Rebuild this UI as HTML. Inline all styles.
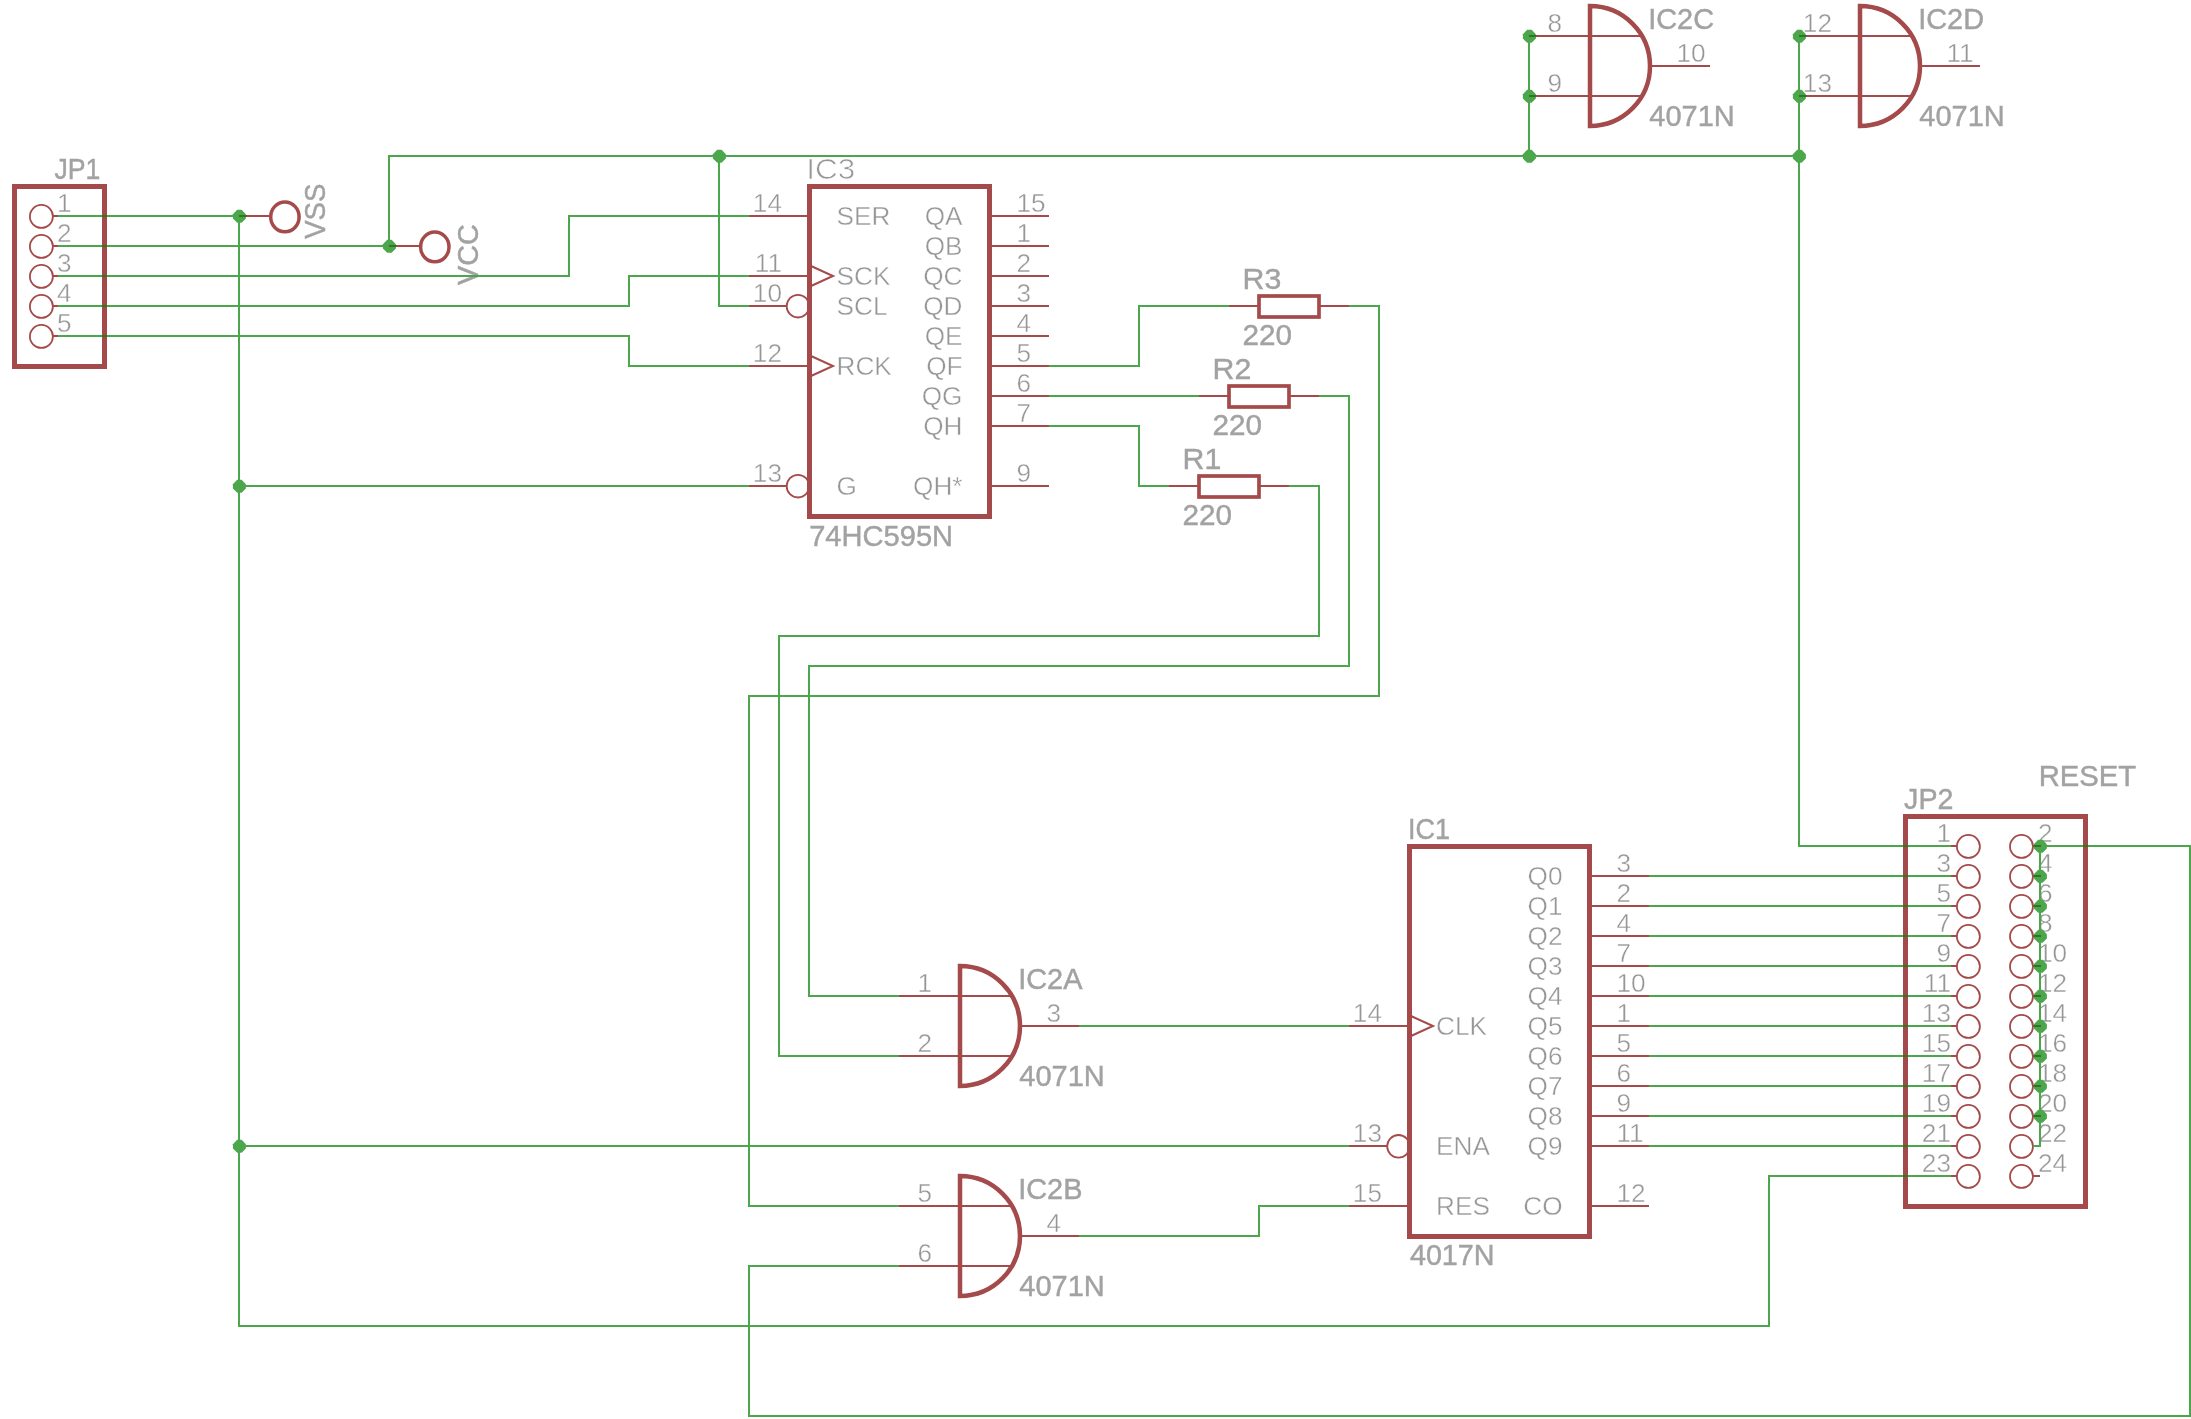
<!DOCTYPE html>
<html><head><meta charset="utf-8"><style>
html,body{margin:0;padding:0;background:#fff;width:2191px;height:1419px;overflow:hidden}
svg{display:block;will-change:transform}
.t{font-family:"Liberation Sans",sans-serif;fill:#969696;stroke:#fff;stroke-width:0.4px}
.th{font-family:"Liberation Sans",sans-serif;fill:#969696;stroke:#fff;stroke-width:0.7px}
.n{font-family:"Liberation Sans",sans-serif;fill:#a2a2a2;stroke:#a2a2a2;stroke-width:0.45px}
</style></head><body>
<svg width="2191" height="1419" viewBox="0 0 2191 1419">
<rect width="2191" height="1419" fill="#fff"/>
<rect x="14.5" y="186.5" width="90" height="180" stroke="#a54a4a" stroke-width="5" fill="none"/>
<circle cx="41.4" cy="216.4" r="11.5" stroke="#a54a4a" stroke-width="1.8" fill="none"/>
<path d="M53 216 L58 216" stroke="#a54a4a" stroke-width="2" fill="none"/>
<text x="57" y="212" class="t" font-size="26.2" text-anchor="start" >1</text>
<circle cx="41.4" cy="246.4" r="11.5" stroke="#a54a4a" stroke-width="1.8" fill="none"/>
<path d="M53 246 L58 246" stroke="#a54a4a" stroke-width="2" fill="none"/>
<text x="57" y="242" class="t" font-size="26.2" text-anchor="start" >2</text>
<circle cx="41.4" cy="276.4" r="11.5" stroke="#a54a4a" stroke-width="1.8" fill="none"/>
<path d="M53 276 L58 276" stroke="#a54a4a" stroke-width="2" fill="none"/>
<text x="57" y="272" class="t" font-size="26.2" text-anchor="start" >3</text>
<circle cx="41.4" cy="306.4" r="11.5" stroke="#a54a4a" stroke-width="1.8" fill="none"/>
<path d="M53 306 L58 306" stroke="#a54a4a" stroke-width="2" fill="none"/>
<text x="57" y="302" class="t" font-size="26.2" text-anchor="start" >4</text>
<circle cx="41.4" cy="336.4" r="11.5" stroke="#a54a4a" stroke-width="1.8" fill="none"/>
<path d="M53 336 L58 336" stroke="#a54a4a" stroke-width="2" fill="none"/>
<text x="57" y="332" class="t" font-size="26.2" text-anchor="start" >5</text>
<text x="54.47" y="178.8" class="n" font-size="30" text-anchor="start" transform="translate(54.47 178.8) scale(0.889 1) translate(-54.47 -178.8)">JP1</text>
<path d="M239 216 L269 216" stroke="#a54a4a" stroke-width="2" fill="none"/>
<ellipse cx="284.9" cy="216.9" rx="14.2" ry="14.9" stroke="#a54a4a" stroke-width="3.5" fill="none"/>
<text x="325" y="238.8" class="n" font-size="30" text-anchor="start" transform="translate(325 238.8) rotate(-90) scale(0.92 1) translate(-325 -238.8)">VSS</text>
<path d="M389 246 L419 246" stroke="#a54a4a" stroke-width="2" fill="none"/>
<ellipse cx="434.8" cy="246.9" rx="14.2" ry="14.9" stroke="#a54a4a" stroke-width="3.5" fill="none"/>
<text x="478" y="284.9" class="n" font-size="30" text-anchor="start" transform="translate(478 284.9) rotate(-90) scale(0.96 1) translate(-478 -284.9)">VCC</text>
<rect x="809.5" y="186.5" width="180" height="330" stroke="#a54a4a" stroke-width="5" fill="none"/>
<path d="M749 216 L807 216" stroke="#a54a4a" stroke-width="2" fill="none"/>
<text x="782" y="212" class="t" font-size="26.2" text-anchor="end" >14</text>
<text x="836.5" y="225" class="t" font-size="26.2" text-anchor="start" >SER</text>
<path d="M749 276 L807 276" stroke="#a54a4a" stroke-width="2" fill="none"/>
<path d="M811 266 L833 276 L811 286" stroke="#a54a4a" stroke-width="2" fill="none" stroke-linecap="butt" stroke-linejoin="miter"/>
<text x="782" y="272" class="t" font-size="26.2" text-anchor="end" >11</text>
<text x="836.5" y="285" class="t" font-size="26.2" text-anchor="start" >SCK</text>
<path d="M749 306 L787 306" stroke="#a54a4a" stroke-width="2" fill="none"/>
<circle cx="798" cy="306.2" r="11.3" stroke="#a54a4a" stroke-width="1.8" fill="none"/>
<text x="782" y="302" class="t" font-size="26.2" text-anchor="end" >10</text>
<text x="836.5" y="315" class="t" font-size="26.2" text-anchor="start" >SCL</text>
<path d="M749 366 L807 366" stroke="#a54a4a" stroke-width="2" fill="none"/>
<path d="M811 356 L833 366 L811 376" stroke="#a54a4a" stroke-width="2" fill="none" stroke-linecap="butt" stroke-linejoin="miter"/>
<text x="782" y="362" class="t" font-size="26.2" text-anchor="end" >12</text>
<text x="836.5" y="375" class="t" font-size="26.2" text-anchor="start" >RCK</text>
<path d="M749 486 L787 486" stroke="#a54a4a" stroke-width="2" fill="none"/>
<circle cx="798" cy="486.2" r="11.3" stroke="#a54a4a" stroke-width="1.8" fill="none"/>
<text x="782" y="482" class="t" font-size="26.2" text-anchor="end" >13</text>
<text x="836.5" y="495" class="t" font-size="26.2" text-anchor="start" >G</text>
<path d="M991 216 L1049 216" stroke="#a54a4a" stroke-width="2" fill="none"/>
<text x="1016.5" y="212" class="t" font-size="26.2" text-anchor="start" >15</text>
<text x="962.5" y="225" class="t" font-size="26.2" text-anchor="end" >QA</text>
<path d="M991 246 L1049 246" stroke="#a54a4a" stroke-width="2" fill="none"/>
<text x="1016.5" y="242" class="t" font-size="26.2" text-anchor="start" >1</text>
<text x="962.5" y="255" class="t" font-size="26.2" text-anchor="end" >QB</text>
<path d="M991 276 L1049 276" stroke="#a54a4a" stroke-width="2" fill="none"/>
<text x="1016.5" y="272" class="t" font-size="26.2" text-anchor="start" >2</text>
<text x="962.5" y="285" class="t" font-size="26.2" text-anchor="end" >QC</text>
<path d="M991 306 L1049 306" stroke="#a54a4a" stroke-width="2" fill="none"/>
<text x="1016.5" y="302" class="t" font-size="26.2" text-anchor="start" >3</text>
<text x="962.5" y="315" class="t" font-size="26.2" text-anchor="end" >QD</text>
<path d="M991 336 L1049 336" stroke="#a54a4a" stroke-width="2" fill="none"/>
<text x="1016.5" y="332" class="t" font-size="26.2" text-anchor="start" >4</text>
<text x="962.5" y="345" class="t" font-size="26.2" text-anchor="end" >QE</text>
<path d="M991 366 L1049 366" stroke="#a54a4a" stroke-width="2" fill="none"/>
<text x="1016.5" y="362" class="t" font-size="26.2" text-anchor="start" >5</text>
<text x="962.5" y="375" class="t" font-size="26.2" text-anchor="end" >QF</text>
<path d="M991 396 L1049 396" stroke="#a54a4a" stroke-width="2" fill="none"/>
<text x="1016.5" y="392" class="t" font-size="26.2" text-anchor="start" >6</text>
<text x="962.5" y="405" class="t" font-size="26.2" text-anchor="end" >QG</text>
<path d="M991 426 L1049 426" stroke="#a54a4a" stroke-width="2" fill="none"/>
<text x="1016.5" y="422" class="t" font-size="26.2" text-anchor="start" >7</text>
<text x="962.5" y="435" class="t" font-size="26.2" text-anchor="end" >QH</text>
<path d="M991 486 L1049 486" stroke="#a54a4a" stroke-width="2" fill="none"/>
<text x="1016.5" y="482" class="t" font-size="26.2" text-anchor="start" >9</text>
<text x="962.5" y="495" class="t" font-size="26.2" text-anchor="end" >QH*</text>
<text x="806.16" y="178.8" class="th" font-size="30" text-anchor="start" transform="translate(806.16 178.8) scale(1.05 1) translate(-806.16 -178.8)">IC3</text>
<text x="809.14" y="545.6" class="n" font-size="30" text-anchor="start" transform="translate(809.14 545.6) scale(0.97 1) translate(-809.14 -545.6)">74HC595N</text>
<rect x="1259" y="296" width="60" height="21" stroke="#a54a4a" stroke-width="3.7" fill="none"/>
<path d="M1229 306 L1258 306" stroke="#a54a4a" stroke-width="2" fill="none"/>
<path d="M1320 306 L1349 306" stroke="#a54a4a" stroke-width="2" fill="none"/>
<text x="1242.58" y="289.2" class="n" font-size="30" text-anchor="start" transform="translate(1242.58 289.2) scale(1.01 1) translate(-1242.58 -289.2)">R3</text>
<text x="1242.52" y="345" class="n" font-size="30" text-anchor="start" transform="translate(1242.52 345) scale(0.99 1) translate(-1242.52 -345)">220</text>
<rect x="1229" y="386" width="60" height="21" stroke="#a54a4a" stroke-width="3.7" fill="none"/>
<path d="M1199 396 L1228 396" stroke="#a54a4a" stroke-width="2" fill="none"/>
<path d="M1290 396 L1319 396" stroke="#a54a4a" stroke-width="2" fill="none"/>
<text x="1212.58" y="379.2" class="n" font-size="30" text-anchor="start" transform="translate(1212.58 379.2) scale(1.01 1) translate(-1212.58 -379.2)">R2</text>
<text x="1212.52" y="435" class="n" font-size="30" text-anchor="start" transform="translate(1212.52 435) scale(0.99 1) translate(-1212.52 -435)">220</text>
<rect x="1199" y="476" width="60" height="21" stroke="#a54a4a" stroke-width="3.7" fill="none"/>
<path d="M1169 486 L1198 486" stroke="#a54a4a" stroke-width="2" fill="none"/>
<path d="M1260 486 L1289 486" stroke="#a54a4a" stroke-width="2" fill="none"/>
<text x="1182.58" y="469.2" class="n" font-size="30" text-anchor="start" transform="translate(1182.58 469.2) scale(1.01 1) translate(-1182.58 -469.2)">R1</text>
<text x="1182.52" y="525" class="n" font-size="30" text-anchor="start" transform="translate(1182.52 525) scale(0.99 1) translate(-1182.52 -525)">220</text>
<path d="M1590 6 L1590 126 A60 60 0 0 0 1590 6 Z" stroke="#a54a4a" stroke-width="4.5" fill="none" stroke-linejoin="miter"/>
<path d="M1529 36 L1642 36" stroke="#a54a4a" stroke-width="2" fill="none"/>
<path d="M1529 96 L1642 96" stroke="#a54a4a" stroke-width="2" fill="none"/>
<path d="M1650 66 L1710 66" stroke="#a54a4a" stroke-width="2" fill="none"/>
<text x="1562" y="32" class="t" font-size="26.2" text-anchor="end" >8</text>
<text x="1562" y="92" class="t" font-size="26.2" text-anchor="end" >9</text>
<text x="1676.5" y="61.5" class="t" font-size="26.2" text-anchor="start" >10</text>
<text x="1648.2" y="28.9" class="n" font-size="30" text-anchor="start" transform="translate(1648.2 28.9) scale(0.963 1) translate(-1648.2 -28.9)">IC2C</text>
<text x="1649.32" y="126" class="n" font-size="30" text-anchor="start" transform="translate(1649.32 126) scale(0.966 1) translate(-1649.32 -126)">4071N</text>
<path d="M1860 6 L1860 126 A60 60 0 0 0 1860 6 Z" stroke="#a54a4a" stroke-width="4.5" fill="none" stroke-linejoin="miter"/>
<path d="M1799 36 L1912 36" stroke="#a54a4a" stroke-width="2" fill="none"/>
<path d="M1799 96 L1912 96" stroke="#a54a4a" stroke-width="2" fill="none"/>
<path d="M1920 66 L1980 66" stroke="#a54a4a" stroke-width="2" fill="none"/>
<text x="1832" y="32" class="t" font-size="26.2" text-anchor="end" >12</text>
<text x="1832" y="92" class="t" font-size="26.2" text-anchor="end" >13</text>
<text x="1946.5" y="61.5" class="t" font-size="26.2" text-anchor="start" >11</text>
<text x="1918.2" y="28.9" class="n" font-size="30" text-anchor="start" transform="translate(1918.2 28.9) scale(0.963 1) translate(-1918.2 -28.9)">IC2D</text>
<text x="1919.32" y="126" class="n" font-size="30" text-anchor="start" transform="translate(1919.32 126) scale(0.966 1) translate(-1919.32 -126)">4071N</text>
<path d="M960 966 L960 1086 A60 60 0 0 0 960 966 Z" stroke="#a54a4a" stroke-width="4.5" fill="none" stroke-linejoin="miter"/>
<path d="M899 996 L1012 996" stroke="#a54a4a" stroke-width="2" fill="none"/>
<path d="M899 1056 L1012 1056" stroke="#a54a4a" stroke-width="2" fill="none"/>
<path d="M1020 1026 L1080 1026" stroke="#a54a4a" stroke-width="2" fill="none"/>
<text x="932" y="992" class="t" font-size="26.2" text-anchor="end" >1</text>
<text x="932" y="1052" class="t" font-size="26.2" text-anchor="end" >2</text>
<text x="1046.5" y="1021.5" class="t" font-size="26.2" text-anchor="start" >3</text>
<text x="1018.2" y="988.9" class="n" font-size="30" text-anchor="start" transform="translate(1018.2 988.9) scale(0.963 1) translate(-1018.2 -988.9)">IC2A</text>
<text x="1019.32" y="1086" class="n" font-size="30" text-anchor="start" transform="translate(1019.32 1086) scale(0.966 1) translate(-1019.32 -1086)">4071N</text>
<path d="M960 1176 L960 1296 A60 60 0 0 0 960 1176 Z" stroke="#a54a4a" stroke-width="4.5" fill="none" stroke-linejoin="miter"/>
<path d="M899 1206 L1012 1206" stroke="#a54a4a" stroke-width="2" fill="none"/>
<path d="M899 1266 L1012 1266" stroke="#a54a4a" stroke-width="2" fill="none"/>
<path d="M1020 1236 L1080 1236" stroke="#a54a4a" stroke-width="2" fill="none"/>
<text x="932" y="1202" class="t" font-size="26.2" text-anchor="end" >5</text>
<text x="932" y="1262" class="t" font-size="26.2" text-anchor="end" >6</text>
<text x="1046.5" y="1231.5" class="t" font-size="26.2" text-anchor="start" >4</text>
<text x="1018.2" y="1198.9" class="n" font-size="30" text-anchor="start" transform="translate(1018.2 1198.9) scale(0.963 1) translate(-1018.2 -1198.9)">IC2B</text>
<text x="1019.32" y="1296" class="n" font-size="30" text-anchor="start" transform="translate(1019.32 1296) scale(0.966 1) translate(-1019.32 -1296)">4071N</text>
<rect x="1409.5" y="846.5" width="180" height="390" stroke="#a54a4a" stroke-width="5" fill="none"/>
<path d="M1349 1026 L1407 1026" stroke="#a54a4a" stroke-width="2" fill="none"/>
<path d="M1411 1016 L1433 1026 L1411 1036" stroke="#a54a4a" stroke-width="2" fill="none" stroke-linecap="butt" stroke-linejoin="miter"/>
<text x="1382" y="1022" class="t" font-size="26.2" text-anchor="end" >14</text>
<text x="1436" y="1035" class="t" font-size="26.2" text-anchor="start" >CLK</text>
<path d="M1349 1146 L1387 1146" stroke="#a54a4a" stroke-width="2" fill="none"/>
<circle cx="1398.5" cy="1146.3" r="11.3" stroke="#a54a4a" stroke-width="1.8" fill="none"/>
<text x="1382" y="1142" class="t" font-size="26.2" text-anchor="end" >13</text>
<text x="1436" y="1155" class="t" font-size="26.2" text-anchor="start" >ENA</text>
<path d="M1349 1206 L1407 1206" stroke="#a54a4a" stroke-width="2" fill="none"/>
<text x="1382" y="1202" class="t" font-size="26.2" text-anchor="end" >15</text>
<text x="1436" y="1215" class="t" font-size="26.2" text-anchor="start" >RES</text>
<path d="M1591 876 L1649 876" stroke="#a54a4a" stroke-width="2" fill="none"/>
<text x="1616.5" y="872" class="t" font-size="26.2" text-anchor="start" >3</text>
<text x="1562.5" y="885" class="t" font-size="26.2" text-anchor="end" >Q0</text>
<path d="M1591 906 L1649 906" stroke="#a54a4a" stroke-width="2" fill="none"/>
<text x="1616.5" y="902" class="t" font-size="26.2" text-anchor="start" >2</text>
<text x="1562.5" y="915" class="t" font-size="26.2" text-anchor="end" >Q1</text>
<path d="M1591 936 L1649 936" stroke="#a54a4a" stroke-width="2" fill="none"/>
<text x="1616.5" y="932" class="t" font-size="26.2" text-anchor="start" >4</text>
<text x="1562.5" y="945" class="t" font-size="26.2" text-anchor="end" >Q2</text>
<path d="M1591 966 L1649 966" stroke="#a54a4a" stroke-width="2" fill="none"/>
<text x="1616.5" y="962" class="t" font-size="26.2" text-anchor="start" >7</text>
<text x="1562.5" y="975" class="t" font-size="26.2" text-anchor="end" >Q3</text>
<path d="M1591 996 L1649 996" stroke="#a54a4a" stroke-width="2" fill="none"/>
<text x="1616.5" y="992" class="t" font-size="26.2" text-anchor="start" >10</text>
<text x="1562.5" y="1005" class="t" font-size="26.2" text-anchor="end" >Q4</text>
<path d="M1591 1026 L1649 1026" stroke="#a54a4a" stroke-width="2" fill="none"/>
<text x="1616.5" y="1022" class="t" font-size="26.2" text-anchor="start" >1</text>
<text x="1562.5" y="1035" class="t" font-size="26.2" text-anchor="end" >Q5</text>
<path d="M1591 1056 L1649 1056" stroke="#a54a4a" stroke-width="2" fill="none"/>
<text x="1616.5" y="1052" class="t" font-size="26.2" text-anchor="start" >5</text>
<text x="1562.5" y="1065" class="t" font-size="26.2" text-anchor="end" >Q6</text>
<path d="M1591 1086 L1649 1086" stroke="#a54a4a" stroke-width="2" fill="none"/>
<text x="1616.5" y="1082" class="t" font-size="26.2" text-anchor="start" >6</text>
<text x="1562.5" y="1095" class="t" font-size="26.2" text-anchor="end" >Q7</text>
<path d="M1591 1116 L1649 1116" stroke="#a54a4a" stroke-width="2" fill="none"/>
<text x="1616.5" y="1112" class="t" font-size="26.2" text-anchor="start" >9</text>
<text x="1562.5" y="1125" class="t" font-size="26.2" text-anchor="end" >Q8</text>
<path d="M1591 1146 L1649 1146" stroke="#a54a4a" stroke-width="2" fill="none"/>
<text x="1616.5" y="1142" class="t" font-size="26.2" text-anchor="start" >11</text>
<text x="1562.5" y="1155" class="t" font-size="26.2" text-anchor="end" >Q9</text>
<path d="M1591 1206 L1649 1206" stroke="#a54a4a" stroke-width="2" fill="none"/>
<text x="1616.5" y="1202" class="t" font-size="26.2" text-anchor="start" >12</text>
<text x="1562.5" y="1215" class="t" font-size="26.2" text-anchor="end" >CO</text>
<text x="1408.07" y="839" class="n" font-size="30" text-anchor="start" transform="translate(1408.07 839) scale(0.9 1) translate(-1408.07 -839)">IC1</text>
<text x="1409.93" y="1265.5" class="n" font-size="30" text-anchor="start" transform="translate(1409.93 1265.5) scale(0.958 1) translate(-1409.93 -1265.5)">4017N</text>
<rect x="1905.5" y="816.5" width="180" height="390" stroke="#a54a4a" stroke-width="5" fill="none"/>
<circle cx="1968.4" cy="846.4" r="11.5" stroke="#a54a4a" stroke-width="1.8" fill="none"/>
<circle cx="2021.5" cy="846.4" r="11.5" stroke="#a54a4a" stroke-width="1.8" fill="none"/>
<path d="M1951 846 L1957 846" stroke="#a54a4a" stroke-width="2" fill="none"/>
<path d="M2033 846 L2040 846" stroke="#a54a4a" stroke-width="2" fill="none"/>
<text x="1951" y="842" class="t" font-size="26.2" text-anchor="end" >1</text>
<text x="2038" y="842" class="t" font-size="26.2" text-anchor="start" >2</text>
<circle cx="1968.4" cy="876.4" r="11.5" stroke="#a54a4a" stroke-width="1.8" fill="none"/>
<circle cx="2021.5" cy="876.4" r="11.5" stroke="#a54a4a" stroke-width="1.8" fill="none"/>
<path d="M1951 876 L1957 876" stroke="#a54a4a" stroke-width="2" fill="none"/>
<path d="M2033 876 L2040 876" stroke="#a54a4a" stroke-width="2" fill="none"/>
<text x="1951" y="872" class="t" font-size="26.2" text-anchor="end" >3</text>
<text x="2038" y="872" class="t" font-size="26.2" text-anchor="start" >4</text>
<circle cx="1968.4" cy="906.4" r="11.5" stroke="#a54a4a" stroke-width="1.8" fill="none"/>
<circle cx="2021.5" cy="906.4" r="11.5" stroke="#a54a4a" stroke-width="1.8" fill="none"/>
<path d="M1951 906 L1957 906" stroke="#a54a4a" stroke-width="2" fill="none"/>
<path d="M2033 906 L2040 906" stroke="#a54a4a" stroke-width="2" fill="none"/>
<text x="1951" y="902" class="t" font-size="26.2" text-anchor="end" >5</text>
<text x="2038" y="902" class="t" font-size="26.2" text-anchor="start" >6</text>
<circle cx="1968.4" cy="936.4" r="11.5" stroke="#a54a4a" stroke-width="1.8" fill="none"/>
<circle cx="2021.5" cy="936.4" r="11.5" stroke="#a54a4a" stroke-width="1.8" fill="none"/>
<path d="M1951 936 L1957 936" stroke="#a54a4a" stroke-width="2" fill="none"/>
<path d="M2033 936 L2040 936" stroke="#a54a4a" stroke-width="2" fill="none"/>
<text x="1951" y="932" class="t" font-size="26.2" text-anchor="end" >7</text>
<text x="2038" y="932" class="t" font-size="26.2" text-anchor="start" >8</text>
<circle cx="1968.4" cy="966.4" r="11.5" stroke="#a54a4a" stroke-width="1.8" fill="none"/>
<circle cx="2021.5" cy="966.4" r="11.5" stroke="#a54a4a" stroke-width="1.8" fill="none"/>
<path d="M1951 966 L1957 966" stroke="#a54a4a" stroke-width="2" fill="none"/>
<path d="M2033 966 L2040 966" stroke="#a54a4a" stroke-width="2" fill="none"/>
<text x="1951" y="962" class="t" font-size="26.2" text-anchor="end" >9</text>
<text x="2038" y="962" class="t" font-size="26.2" text-anchor="start" >10</text>
<circle cx="1968.4" cy="996.4" r="11.5" stroke="#a54a4a" stroke-width="1.8" fill="none"/>
<circle cx="2021.5" cy="996.4" r="11.5" stroke="#a54a4a" stroke-width="1.8" fill="none"/>
<path d="M1951 996 L1957 996" stroke="#a54a4a" stroke-width="2" fill="none"/>
<path d="M2033 996 L2040 996" stroke="#a54a4a" stroke-width="2" fill="none"/>
<text x="1951" y="992" class="t" font-size="26.2" text-anchor="end" >11</text>
<text x="2038" y="992" class="t" font-size="26.2" text-anchor="start" >12</text>
<circle cx="1968.4" cy="1026.4" r="11.5" stroke="#a54a4a" stroke-width="1.8" fill="none"/>
<circle cx="2021.5" cy="1026.4" r="11.5" stroke="#a54a4a" stroke-width="1.8" fill="none"/>
<path d="M1951 1026 L1957 1026" stroke="#a54a4a" stroke-width="2" fill="none"/>
<path d="M2033 1026 L2040 1026" stroke="#a54a4a" stroke-width="2" fill="none"/>
<text x="1951" y="1022" class="t" font-size="26.2" text-anchor="end" >13</text>
<text x="2038" y="1022" class="t" font-size="26.2" text-anchor="start" >14</text>
<circle cx="1968.4" cy="1056.4" r="11.5" stroke="#a54a4a" stroke-width="1.8" fill="none"/>
<circle cx="2021.5" cy="1056.4" r="11.5" stroke="#a54a4a" stroke-width="1.8" fill="none"/>
<path d="M1951 1056 L1957 1056" stroke="#a54a4a" stroke-width="2" fill="none"/>
<path d="M2033 1056 L2040 1056" stroke="#a54a4a" stroke-width="2" fill="none"/>
<text x="1951" y="1052" class="t" font-size="26.2" text-anchor="end" >15</text>
<text x="2038" y="1052" class="t" font-size="26.2" text-anchor="start" >16</text>
<circle cx="1968.4" cy="1086.4" r="11.5" stroke="#a54a4a" stroke-width="1.8" fill="none"/>
<circle cx="2021.5" cy="1086.4" r="11.5" stroke="#a54a4a" stroke-width="1.8" fill="none"/>
<path d="M1951 1086 L1957 1086" stroke="#a54a4a" stroke-width="2" fill="none"/>
<path d="M2033 1086 L2040 1086" stroke="#a54a4a" stroke-width="2" fill="none"/>
<text x="1951" y="1082" class="t" font-size="26.2" text-anchor="end" >17</text>
<text x="2038" y="1082" class="t" font-size="26.2" text-anchor="start" >18</text>
<circle cx="1968.4" cy="1116.4" r="11.5" stroke="#a54a4a" stroke-width="1.8" fill="none"/>
<circle cx="2021.5" cy="1116.4" r="11.5" stroke="#a54a4a" stroke-width="1.8" fill="none"/>
<path d="M1951 1116 L1957 1116" stroke="#a54a4a" stroke-width="2" fill="none"/>
<path d="M2033 1116 L2040 1116" stroke="#a54a4a" stroke-width="2" fill="none"/>
<text x="1951" y="1112" class="t" font-size="26.2" text-anchor="end" >19</text>
<text x="2038" y="1112" class="t" font-size="26.2" text-anchor="start" >20</text>
<circle cx="1968.4" cy="1146.4" r="11.5" stroke="#a54a4a" stroke-width="1.8" fill="none"/>
<circle cx="2021.5" cy="1146.4" r="11.5" stroke="#a54a4a" stroke-width="1.8" fill="none"/>
<path d="M1951 1146 L1957 1146" stroke="#a54a4a" stroke-width="2" fill="none"/>
<path d="M2033 1146 L2040 1146" stroke="#a54a4a" stroke-width="2" fill="none"/>
<text x="1951" y="1142" class="t" font-size="26.2" text-anchor="end" >21</text>
<text x="2038" y="1142" class="t" font-size="26.2" text-anchor="start" >22</text>
<circle cx="1968.4" cy="1176.4" r="11.5" stroke="#a54a4a" stroke-width="1.8" fill="none"/>
<circle cx="2021.5" cy="1176.4" r="11.5" stroke="#a54a4a" stroke-width="1.8" fill="none"/>
<path d="M1951 1176 L1957 1176" stroke="#a54a4a" stroke-width="2" fill="none"/>
<path d="M2033 1176 L2040 1176" stroke="#a54a4a" stroke-width="2" fill="none"/>
<text x="1951" y="1172" class="t" font-size="26.2" text-anchor="end" >23</text>
<text x="2038" y="1172" class="t" font-size="26.2" text-anchor="start" >24</text>
<text x="1904.13" y="809" class="n" font-size="30" text-anchor="start" transform="translate(1904.13 809) scale(0.955 1) translate(-1904.13 -809)">JP2</text>
<text x="2038.66" y="786" class="n" font-size="30" text-anchor="start" transform="translate(2038.66 786) scale(0.975 1) translate(-2038.66 -786)">RESET</text>
<path d="M58 216 L239 216" stroke="#4ca64c" stroke-width="2" fill="none"/>
<path d="M239 216 L239 1326 L1769 1326 L1769 1176 L1951 1176" stroke="#4ca64c" stroke-width="2" fill="none"/>
<path d="M239 486 L749 486" stroke="#4ca64c" stroke-width="2" fill="none"/>
<path d="M239 1146 L1349 1146" stroke="#4ca64c" stroke-width="2" fill="none"/>
<path d="M58 246 L389 246" stroke="#4ca64c" stroke-width="2" fill="none"/>
<path d="M389 246 L389 156 L1799 156" stroke="#4ca64c" stroke-width="2" fill="none"/>
<path d="M719 156 L719 306 L749 306" stroke="#4ca64c" stroke-width="2" fill="none"/>
<path d="M1529 36 L1529 156" stroke="#4ca64c" stroke-width="2" fill="none"/>
<path d="M1799 36 L1799 846 L1951 846" stroke="#4ca64c" stroke-width="2" fill="none"/>
<path d="M58 276 L569 276 L569 216 L749 216" stroke="#4ca64c" stroke-width="2" fill="none"/>
<path d="M58 306 L629 306 L629 276 L749 276" stroke="#4ca64c" stroke-width="2" fill="none"/>
<path d="M58 336 L629 336 L629 366 L749 366" stroke="#4ca64c" stroke-width="2" fill="none"/>
<path d="M1049 366 L1139 366 L1139 306 L1229 306" stroke="#4ca64c" stroke-width="2" fill="none"/>
<path d="M1049 396 L1199 396" stroke="#4ca64c" stroke-width="2" fill="none"/>
<path d="M1049 426 L1139 426 L1139 486 L1169 486" stroke="#4ca64c" stroke-width="2" fill="none"/>
<path d="M1349 306 L1379 306 L1379 696 L749 696 L749 1206 L899 1206" stroke="#4ca64c" stroke-width="2" fill="none"/>
<path d="M1319 396 L1349 396 L1349 666 L809 666 L809 996 L899 996" stroke="#4ca64c" stroke-width="2" fill="none"/>
<path d="M1289 486 L1319 486 L1319 636 L779 636 L779 1056 L899 1056" stroke="#4ca64c" stroke-width="2" fill="none"/>
<path d="M1079 1026 L1349 1026" stroke="#4ca64c" stroke-width="2" fill="none"/>
<path d="M1079 1236 L1259 1236 L1259 1206 L1349 1206" stroke="#4ca64c" stroke-width="2" fill="none"/>
<path d="M899 1266 L749 1266 L749 1416 L2190 1416 L2190 846 L2040 846" stroke="#4ca64c" stroke-width="2" fill="none"/>
<path d="M2040 846 L2040 1146 L2033 1146" stroke="#4ca64c" stroke-width="2" fill="none"/>
<path d="M1649 876 L1951 876" stroke="#4ca64c" stroke-width="2" fill="none"/>
<path d="M1649 906 L1951 906" stroke="#4ca64c" stroke-width="2" fill="none"/>
<path d="M1649 936 L1951 936" stroke="#4ca64c" stroke-width="2" fill="none"/>
<path d="M1649 966 L1951 966" stroke="#4ca64c" stroke-width="2" fill="none"/>
<path d="M1649 996 L1951 996" stroke="#4ca64c" stroke-width="2" fill="none"/>
<path d="M1649 1026 L1951 1026" stroke="#4ca64c" stroke-width="2" fill="none"/>
<path d="M1649 1056 L1951 1056" stroke="#4ca64c" stroke-width="2" fill="none"/>
<path d="M1649 1086 L1951 1086" stroke="#4ca64c" stroke-width="2" fill="none"/>
<path d="M1649 1116 L1951 1116" stroke="#4ca64c" stroke-width="2" fill="none"/>
<path d="M1649 1146 L1951 1146" stroke="#4ca64c" stroke-width="2" fill="none"/>
<polygon points="237.20,209.85 241.60,209.85 245.90,214.15 245.90,218.55 241.60,222.85 237.20,222.85 232.90,218.55 232.90,214.15" fill="#4ca64c"/>
<polygon points="237.20,479.85 241.60,479.85 245.90,484.15 245.90,488.55 241.60,492.85 237.20,492.85 232.90,488.55 232.90,484.15" fill="#4ca64c"/>
<polygon points="237.20,1139.85 241.60,1139.85 245.90,1144.15 245.90,1148.55 241.60,1152.85 237.20,1152.85 232.90,1148.55 232.90,1144.15" fill="#4ca64c"/>
<polygon points="387.20,239.85 391.60,239.85 395.90,244.15 395.90,248.55 391.60,252.85 387.20,252.85 382.90,248.55 382.90,244.15" fill="#4ca64c"/>
<polygon points="717.20,149.85 721.60,149.85 725.90,154.15 725.90,158.55 721.60,162.85 717.20,162.85 712.90,158.55 712.90,154.15" fill="#4ca64c"/>
<polygon points="1527.20,149.85 1531.60,149.85 1535.90,154.15 1535.90,158.55 1531.60,162.85 1527.20,162.85 1522.90,158.55 1522.90,154.15" fill="#4ca64c"/>
<polygon points="1527.20,29.85 1531.60,29.85 1535.90,34.15 1535.90,38.55 1531.60,42.85 1527.20,42.85 1522.90,38.55 1522.90,34.15" fill="#4ca64c"/>
<polygon points="1527.20,89.85 1531.60,89.85 1535.90,94.15 1535.90,98.55 1531.60,102.85 1527.20,102.85 1522.90,98.55 1522.90,94.15" fill="#4ca64c"/>
<polygon points="1797.20,149.85 1801.60,149.85 1805.90,154.15 1805.90,158.55 1801.60,162.85 1797.20,162.85 1792.90,158.55 1792.90,154.15" fill="#4ca64c"/>
<polygon points="1797.20,29.85 1801.60,29.85 1805.90,34.15 1805.90,38.55 1801.60,42.85 1797.20,42.85 1792.90,38.55 1792.90,34.15" fill="#4ca64c"/>
<polygon points="1797.20,89.85 1801.60,89.85 1805.90,94.15 1805.90,98.55 1801.60,102.85 1797.20,102.85 1792.90,98.55 1792.90,94.15" fill="#4ca64c"/>
<polygon points="2038.20,839.85 2042.60,839.85 2046.90,844.15 2046.90,848.55 2042.60,852.85 2038.20,852.85 2033.90,848.55 2033.90,844.15" fill="#4ca64c"/>
<polygon points="2038.20,869.85 2042.60,869.85 2046.90,874.15 2046.90,878.55 2042.60,882.85 2038.20,882.85 2033.90,878.55 2033.90,874.15" fill="#4ca64c"/>
<polygon points="2038.20,899.85 2042.60,899.85 2046.90,904.15 2046.90,908.55 2042.60,912.85 2038.20,912.85 2033.90,908.55 2033.90,904.15" fill="#4ca64c"/>
<polygon points="2038.20,929.85 2042.60,929.85 2046.90,934.15 2046.90,938.55 2042.60,942.85 2038.20,942.85 2033.90,938.55 2033.90,934.15" fill="#4ca64c"/>
<polygon points="2038.20,959.85 2042.60,959.85 2046.90,964.15 2046.90,968.55 2042.60,972.85 2038.20,972.85 2033.90,968.55 2033.90,964.15" fill="#4ca64c"/>
<polygon points="2038.20,989.85 2042.60,989.85 2046.90,994.15 2046.90,998.55 2042.60,1002.85 2038.20,1002.85 2033.90,998.55 2033.90,994.15" fill="#4ca64c"/>
<polygon points="2038.20,1019.85 2042.60,1019.85 2046.90,1024.15 2046.90,1028.55 2042.60,1032.85 2038.20,1032.85 2033.90,1028.55 2033.90,1024.15" fill="#4ca64c"/>
<polygon points="2038.20,1049.85 2042.60,1049.85 2046.90,1054.15 2046.90,1058.55 2042.60,1062.85 2038.20,1062.85 2033.90,1058.55 2033.90,1054.15" fill="#4ca64c"/>
<polygon points="2038.20,1079.85 2042.60,1079.85 2046.90,1084.15 2046.90,1088.55 2042.60,1092.85 2038.20,1092.85 2033.90,1088.55 2033.90,1084.15" fill="#4ca64c"/>
<polygon points="2038.20,1109.85 2042.60,1109.85 2046.90,1114.15 2046.90,1118.55 2042.60,1122.85 2038.20,1122.85 2033.90,1118.55 2033.90,1114.15" fill="#4ca64c"/>
<path d="M239 216 L246.5 216" stroke="#327328" stroke-width="2" fill="none"/>
<path d="M389 246 L396.5 246" stroke="#327328" stroke-width="2" fill="none"/>
<path d="M1529 36 L1536.5 36" stroke="#327328" stroke-width="2" fill="none"/>
<path d="M1799 36 L1806.5 36" stroke="#327328" stroke-width="2" fill="none"/>
<path d="M1529 96 L1536.5 96" stroke="#327328" stroke-width="2" fill="none"/>
<path d="M1799 96 L1806.5 96" stroke="#327328" stroke-width="2" fill="none"/>
<path d="M2033.5 846 L2041 846" stroke="#327328" stroke-width="2" fill="none"/>
<path d="M2033.5 876 L2041 876" stroke="#327328" stroke-width="2" fill="none"/>
<path d="M2033.5 906 L2041 906" stroke="#327328" stroke-width="2" fill="none"/>
<path d="M2033.5 936 L2041 936" stroke="#327328" stroke-width="2" fill="none"/>
<path d="M2033.5 966 L2041 966" stroke="#327328" stroke-width="2" fill="none"/>
<path d="M2033.5 996 L2041 996" stroke="#327328" stroke-width="2" fill="none"/>
<path d="M2033.5 1026 L2041 1026" stroke="#327328" stroke-width="2" fill="none"/>
<path d="M2033.5 1056 L2041 1056" stroke="#327328" stroke-width="2" fill="none"/>
<path d="M2033.5 1086 L2041 1086" stroke="#327328" stroke-width="2" fill="none"/>
<path d="M2033.5 1116 L2041 1116" stroke="#327328" stroke-width="2" fill="none"/>
<path d="M102 216 L107 216" stroke="#2d781e" stroke-width="2" fill="none"/>
<path d="M102 246 L107 246" stroke="#2d781e" stroke-width="2" fill="none"/>
<path d="M102 276 L107 276" stroke="#2d781e" stroke-width="2" fill="none"/>
<path d="M102 306 L107 306" stroke="#2d781e" stroke-width="2" fill="none"/>
<path d="M102 336 L107 336" stroke="#2d781e" stroke-width="2" fill="none"/>
<path d="M1903 846 L1908 846" stroke="#2d781e" stroke-width="2" fill="none"/>
<path d="M1903 876 L1908 876" stroke="#2d781e" stroke-width="2" fill="none"/>
<path d="M1903 906 L1908 906" stroke="#2d781e" stroke-width="2" fill="none"/>
<path d="M1903 936 L1908 936" stroke="#2d781e" stroke-width="2" fill="none"/>
<path d="M1903 966 L1908 966" stroke="#2d781e" stroke-width="2" fill="none"/>
<path d="M1903 996 L1908 996" stroke="#2d781e" stroke-width="2" fill="none"/>
<path d="M1903 1026 L1908 1026" stroke="#2d781e" stroke-width="2" fill="none"/>
<path d="M1903 1056 L1908 1056" stroke="#2d781e" stroke-width="2" fill="none"/>
<path d="M1903 1086 L1908 1086" stroke="#2d781e" stroke-width="2" fill="none"/>
<path d="M1903 1116 L1908 1116" stroke="#2d781e" stroke-width="2" fill="none"/>
<path d="M1903 1146 L1908 1146" stroke="#2d781e" stroke-width="2" fill="none"/>
<path d="M1903 1176 L1908 1176" stroke="#2d781e" stroke-width="2" fill="none"/>
<path d="M2083 846 L2088 846" stroke="#2d781e" stroke-width="2" fill="none"/>
</svg>
</body></html>
